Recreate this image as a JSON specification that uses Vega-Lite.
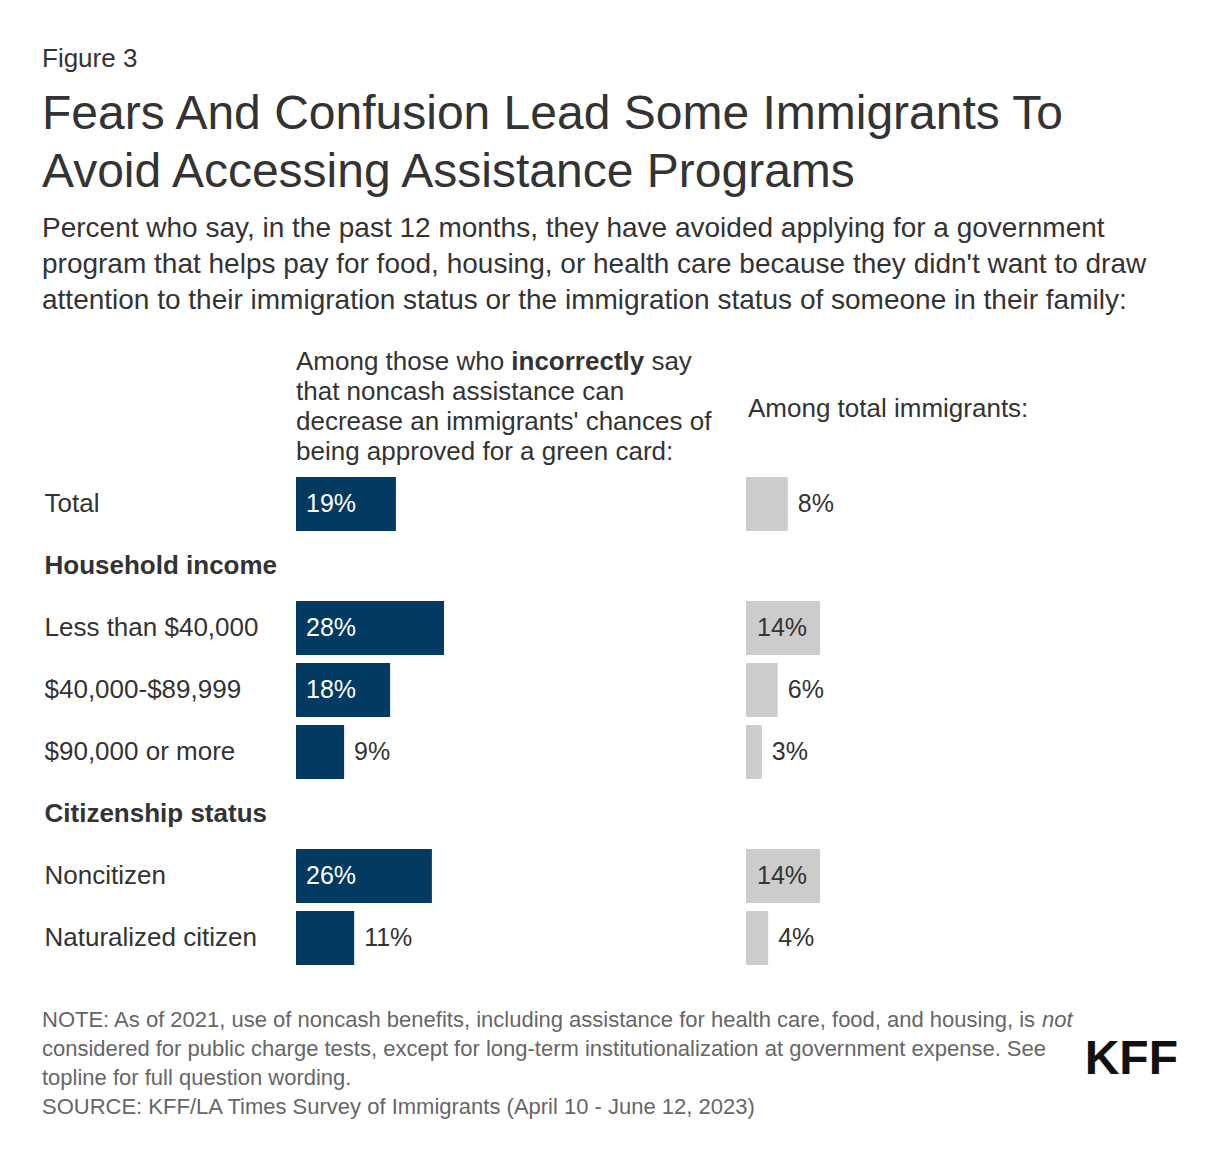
{
  "$schema": "https://vega.github.io/schema/vega-lite/v6.json",
  "background": "white",
  "padding": {"left": 42, "top": 45, "right": 20, "bottom": 20},
  "config": {
    "font": "Liberation Sans",
    "view": {"stroke": null},
    "axis": {"labelFont": "Liberation Sans"},
    "text": {"font": "Liberation Sans"},
    "title": {"font": "Liberation Sans", "subtitleFont": "Liberation Sans"}
  },
  "datasets": {
    "rows": [
      {"group": "Total", "left": 0.189, "right": 0.079},
      {"group": "Less than $40,000", "left": 0.28, "right": 0.14},
      {"group": "$40,000-$89,999", "left": 0.178, "right": 0.06},
      {"group": "$90,000 or more", "left": 0.091, "right": 0.03},
      {"group": "Noncitizen", "left": 0.257, "right": 0.14},
      {"group": "Naturalized citizen", "left": 0.11, "right": 0.042}
    ],
    "header": [
      {"line": 1, "seg": "pre", "text": "Among those who"},
      {"line": 1, "seg": "bold", "text": "incorrectly"},
      {"line": 1, "seg": "post", "text": "say"},
      {"line": 2, "seg": "pre", "text": "that noncash assistance can"},
      {"line": 3, "seg": "pre", "text": "decrease an immigrants' chances of"},
      {"line": 4, "seg": "pre", "text": "being approved for a green card:"}
    ],
    "headerRight": [{"text": "Among total immigrants:"}],
    "notes": [
      {"line": 1, "seg": "normal", "text": "NOTE: As of 2021, use of noncash benefits, including assistance for health care, food, and housing, is"},
      {"line": 1, "seg": "italic", "text": "not"},
      {"line": 2, "seg": "normal", "text": "considered for public charge tests, except for long-term institutionalization at government expense. See"},
      {"line": 3, "seg": "normal", "text": "topline for full question wording."},
      {"line": 4, "seg": "normal", "text": "SOURCE: KFF/LA Times Survey of Immigrants (April 10 - June 12, 2023)"}
    ],
    "logo": [{"text": "KFF"}]
  },
  "title": {"text": "Figure 3", "anchor": "start", "fontSize": 26, "fontWeight": "normal", "color": "#333333", "dx": 0, "offset": 19},
  "spacing": 36,
  "vconcat": [
    {
      "title": {
        "text": ["Fears And Confusion Lead Some Immigrants To", "Avoid Accessing Assistance Programs"],
        "anchor": "start",
        "fontSize": 48,
        "lineHeight": 58,
        "fontWeight": "normal",
        "color": "#333333",
        "dx": -2,
        "subtitle": [
          "Percent who say, in the past 12 months, they have avoided applying for a government",
          "program that helps pay for food, housing, or health care because they didn't want to draw",
          "attention to their immigration status or the immigration status of someone in their family:"
        ],
        "subtitleFontSize": 28,
        "subtitleLineHeight": 36,
        "subtitleColor": "#333333",
        "subtitlePadding": 18,
        "offset": 34
      },
      "spacing": 27,
      "hconcat": [
        {
          "width": 423,
          "height": 620,
          "resolve": {"scale": {"y": "independent"}},
          "layer": [
            {
              "data": {"name": "rows"},
              "layer": [
                {
                  "mark": {"type": "bar", "color": "#023a62"},
                  "encoding": {
                    "y": {"field": "group", "type": "nominal", "sort": null, "title": null,
                      "scale": {"domain": ["_h1", "_h2", "Total", "Household income", "Less than $40,000", "$40,000-$89,999", "$90,000 or more", "Citizenship status", "Noncitizen", "Naturalized citizen"], "paddingInner": 0.129, "paddingOuter": 0.0645},
                      "axis": {
                        "labelAlign": "left", "labelPadding": 252, "ticks": false, "tickSize": 0, "domain": false, "grid": false,
                        "labelFontSize": 26, "labelColor": "#333333", "labelLimit": 400, "labelFont": "Liberation Sans",
                        "labelExpr": "indexof(datum.value, '_h') === 0 ? '' : datum.value",
                        "labelFontWeight": {"condition": {"test": "datum.value === 'Household income' || datum.value === 'Citizenship status'", "value": "bold"}, "value": "normal"}
                      }
                    },
                    "x": {"field": "left", "type": "quantitative", "scale": {"domain": [0, 0.8], "nice": false}, "axis": null}
                  }
                },
                {
                  "transform": [{"filter": "datum.left >= 0.13"}],
                  "mark": {"type": "text", "align": "left", "baseline": "middle", "dx": 10, "fontSize": 25, "color": "#ffffff"},
                  "encoding": {
                    "y": {"field": "group", "type": "nominal", "sort": null, "title": null},
                    "x": {"datum": 0, "type": "quantitative"},
                    "text": {"field": "left", "format": ".0%"}
                  }
                },
                {
                  "transform": [{"filter": "datum.left < 0.13"}],
                  "mark": {"type": "text", "align": "left", "baseline": "middle", "dx": 10, "fontSize": 25, "color": "#333333"},
                  "encoding": {
                    "y": {"field": "group", "type": "nominal", "sort": null, "title": null},
                    "x": {"field": "left", "type": "quantitative"},
                    "text": {"field": "left", "format": ".0%"}
                  }
                }
              ]
            },
            {
              "data": {"name": "header"},
              "layer": [
                {
                  "transform": [{"filter": "datum.seg === 'pre'"}],
                  "mark": {"type": "text", "align": "left", "baseline": "middle", "fontSize": 26, "color": "#333333"},
                  "encoding": {
                    "x": {"datum": 0, "type": "quantitative"},
                    "y": {"field": "line", "type": "quantitative", "scale": {"domain": [0.5667, 21.2333], "reverse": true, "zero": false, "nice": false}, "axis": null},
                    "text": {"field": "text"}
                  }
                },
                {
                  "transform": [{"filter": "datum.seg === 'bold'"}],
                  "mark": {"type": "text", "align": "left", "baseline": "middle", "fontSize": 26, "fontWeight": "bold", "color": "#333333", "dx": 215.3},
                  "encoding": {
                    "x": {"datum": 0, "type": "quantitative"},
                    "y": {"field": "line", "type": "quantitative", "axis": null},
                    "text": {"field": "text"}
                  }
                },
                {
                  "transform": [{"filter": "datum.seg === 'post'"}],
                  "mark": {"type": "text", "align": "left", "baseline": "middle", "fontSize": 26, "color": "#333333", "dx": 355.4},
                  "encoding": {
                    "x": {"datum": 0, "type": "quantitative"},
                    "y": {"field": "line", "type": "quantitative", "axis": null},
                    "text": {"field": "text"}
                  }
                }
              ]
            }
          ]
        },
        {
          "width": 423,
          "height": 620,
          "resolve": {"scale": {"y": "independent"}},
          "layer": [
            {
              "data": {"name": "rows"},
              "layer": [
                {
                  "mark": {"type": "bar", "color": "#cccccc"},
                  "encoding": {
                    "y": {"field": "group", "type": "nominal", "sort": null, "title": null,
                      "scale": {"domain": ["_h1", "_h2", "Total", "Household income", "Less than $40,000", "$40,000-$89,999", "$90,000 or more", "Citizenship status", "Noncitizen", "Naturalized citizen"], "paddingInner": 0.129, "paddingOuter": 0.0645},
                      "axis": null
                    },
                    "x": {"field": "right", "type": "quantitative", "scale": {"domain": [0, 0.8], "nice": false}, "axis": null}
                  }
                },
                {
                  "transform": [{"filter": "datum.right >= 0.13"}],
                  "mark": {"type": "text", "align": "left", "baseline": "middle", "dx": 11, "fontSize": 25, "color": "#333333"},
                  "encoding": {
                    "y": {"field": "group", "type": "nominal", "sort": null, "title": null},
                    "x": {"datum": 0, "type": "quantitative"},
                    "text": {"field": "right", "format": ".0%"}
                  }
                },
                {
                  "transform": [{"filter": "datum.right < 0.13"}],
                  "mark": {"type": "text", "align": "left", "baseline": "middle", "dx": 10, "fontSize": 25, "color": "#333333"},
                  "encoding": {
                    "y": {"field": "group", "type": "nominal", "sort": null, "title": null},
                    "x": {"field": "right", "type": "quantitative"},
                    "text": {"field": "right", "format": ".0%"}
                  }
                }
              ]
            },
            {
              "data": {"name": "headerRight"},
              "mark": {"type": "text", "align": "left", "baseline": "middle", "fontSize": 26, "color": "#333333", "dx": 2, "dy": 2},
              "encoding": {
                "x": {"datum": 0, "type": "quantitative"},
                "y": {"datum": 2.5, "type": "quantitative", "scale": {"domain": [0.5667, 21.2333], "reverse": true, "zero": false, "nice": false}, "axis": null},
                "text": {"field": "text"}
              }
            }
          ]
        }
      ]
    },
    {
      "width": 882,
      "height": 116,
      "layer": [
        {
          "data": {"name": "notes"},
          "transform": [{"filter": "datum.seg === 'normal'"}],
          "mark": {"type": "text", "align": "left", "baseline": "middle", "fontSize": 22, "color": "#666666", "dx": -254},
          "encoding": {
            "x": {"datum": 0, "type": "quantitative", "scale": {"domain": [0, 1], "nice": false, "zero": false}, "axis": null},
            "y": {"field": "line", "type": "ordinal", "scale": {"domain": [1, 2, 3, 4], "paddingInner": 0, "paddingOuter": 0}, "axis": null},
            "text": {"field": "text"}
          }
        },
        {
          "data": {"name": "notes"},
          "transform": [{"filter": "datum.seg === 'italic'"}],
          "mark": {"type": "text", "align": "left", "baseline": "middle", "fontSize": 22, "fontStyle": "italic", "color": "#666666", "dx": 746},
          "encoding": {
            "x": {"datum": 0, "type": "quantitative"},
            "y": {"field": "line", "type": "ordinal"},
            "text": {"field": "text"}
          }
        },
        {
          "data": {"name": "logo"},
          "mark": {"type": "text", "align": "right", "baseline": "middle", "fontSize": 48, "fontWeight": "bold", "color": "#111111", "dy": 11},
          "encoding": {
            "x": {"datum": 1, "type": "quantitative"},
            "y": {"datum": 2, "type": "ordinal"},
            "text": {"field": "text"}
          }
        }
      ]
    }
  ]
}
